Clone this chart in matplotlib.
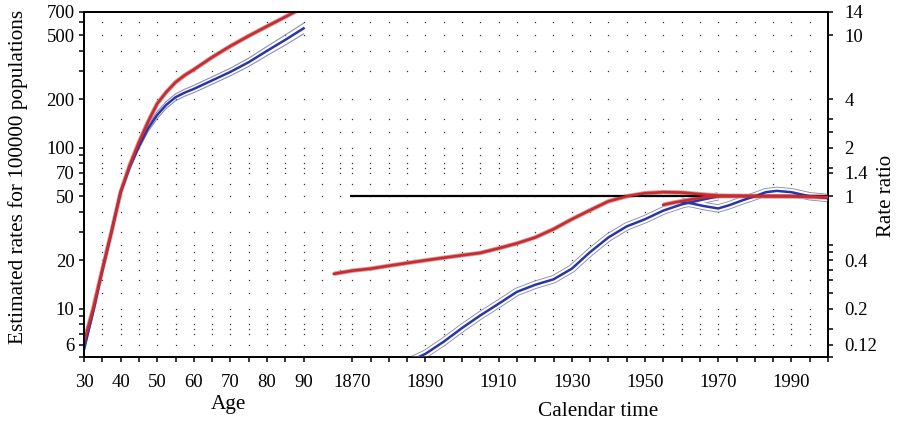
import numpy as np
import matplotlib.pyplot as plt
from matplotlib.ticker import FixedLocator, NullLocator, FuncFormatter

plt.rcParams['font.family'] = ['Liberation Serif', 'DejaVu Serif']

# age effects (rates per 100000)
ages = [30, 32.5, 35, 37.5, 40, 42.5, 45, 47.5, 50, 52.5, 55, 57.5, 60, 65, 70, 75, 80, 85, 90]
age_red = [6.2, 10, 17.5, 30, 53, 78, 108, 145, 188, 222, 255, 282, 306, 365, 428, 495, 568, 650, 745]
age_blue = [5.6, 9.6, 17.3, 30, 53, 76, 102, 132, 160, 185, 206, 220, 232, 262, 296, 340, 400, 468, 552]
age_blue_lo = [5.4, 9.3, 16.8, 29.1, 51.4, 73.5, 98.5, 126, 152, 176, 196, 209, 220, 248, 280, 320, 374, 434, 510]
age_blue_hi = [5.8, 9.9, 17.8, 30.9, 54.6, 78.5, 105.5, 138, 168, 194, 216, 231, 244, 276, 312, 360, 426, 502, 594]

# cohort effects (rate ratio)
coh_red_years = [1865, 1870, 1875, 1880, 1885, 1890, 1895, 1900, 1905, 1910, 1915, 1920, 1925, 1930,
                 1935, 1940, 1945, 1950, 1955, 1960, 1965, 1970, 1975, 1980, 1985, 1990, 1995, 2000]
coh_red = [0.330, 0.345, 0.355, 0.37, 0.385, 0.40, 0.415, 0.43, 0.445, 0.475, 0.51, 0.555, 0.625, 0.72,
           0.82, 0.93, 1.0, 1.045, 1.06, 1.055, 1.03, 1.01, 1.005, 1.0, 1.0, 1.0, 0.99, 0.985]
coh_blue_years = [1885, 1890, 1895, 1900, 1905, 1910, 1915, 1920, 1925, 1930, 1935, 1940, 1945,
                  1950, 1955, 1960, 1965, 1970]
coh_blue = [0.093, 0.105, 0.125, 0.152, 0.182, 0.215, 0.255, 0.282, 0.305, 0.355, 0.45, 0.555, 0.65,
            0.72, 0.815, 0.89, 0.945, 1.0]

# period effects (rate ratio)
per_red_years = [1955, 1958, 1962, 1966, 1970, 1980, 1990, 2000]
per_red = [0.885, 0.915, 0.95, 0.985, 1.0, 1.005, 1.0, 0.99]
per_blue_years = [1960, 1963, 1966, 1970, 1973, 1977, 1980, 1983, 1986, 1990, 1995, 2000]
per_blue = [0.925, 0.90, 0.87, 0.84, 0.88, 0.95, 1.0, 1.06, 1.08, 1.06, 1.0, 0.975]

# ticks
left_ticks = [5, 6, 7, 8, 9, 10, 20, 30, 40, 50, 60, 70, 80, 90, 100, 200, 300, 400, 500, 600, 700]
left_labels = [6, 10, 20, 50, 70, 100, 200, 500, 700]
right_ticks = [0.1, 0.12, 0.15, 0.2, 0.25, 0.3, 0.35, 0.4, 0.45, 0.5, 1, 1.4, 1.5, 2, 2.5, 3, 4, 10, 14]
right_labels = [0.12, 0.2, 0.4, 1, 1.4, 2, 4, 10, 14]
age_ticks = list(range(30, 91, 5))
year_ticks = list(range(1870, 2001, 5))

RED = '#d0282c'
RED_CI = '#c9a0a0'
BLUE = '#2a36a6'
BLUE_CI = '#8c8cba'

W, H = 897, 425
fig = plt.figure(figsize=(W / 100, H / 100), dpi=100)
x0, x1, y0, y1 = 84, 828, 11.7, 357.3
ax = fig.add_axes([x0 / W, 1 - y1 / H, (x1 - x0) / W, (y1 - y0) / H])
xmax = 30 + (x1 - x0) / 3.66
offset = 2000 - xmax

ax.set_yscale('log')
ax.set_ylim(5, 700)
ax.set_xlim(30, xmax)
ax2 = ax.twinx()
ax2.set_yscale('log')
ax2.set_ylim(0.1, 14)
ax3 = ax2.twiny()
ax3.set_xlim(2000 - (xmax - 30), 2000)

# dotted grid at tick intersections
cols = list(range(35, 101, 5)) + [y - offset for y in range(1870, 2000, 5)]
rows = sorted(set([v for v in left_ticks[1:-1]] + [r * 50 for r in right_ticks[1:-1]]))
gx, gy = np.meshgrid(cols, rows)
ax.plot(gx.ravel(), gy.ravel(), ls='none', marker='s', ms=0.9, mew=0, color='#333333', zorder=0.5)

# age curves
ax.plot(ages, age_red, color=RED_CI, lw=3.2, zorder=2, solid_capstyle='butt')
ax.plot(ages, age_blue_lo, color=BLUE_CI, lw=0.8, zorder=2)
ax.plot(ages, age_blue_hi, color=BLUE_CI, lw=0.8, zorder=2)
ax.plot(ages, age_blue, color=BLUE, lw=1.8, zorder=3)
ax.plot(ages, age_red, color=RED, lw=1.9, zorder=4)

# cohort and period curves
for yrs, vals in [(coh_blue_years, coh_blue), (per_blue_years, per_blue)]:
    ax3.plot(yrs, vals, color=BLUE_CI, lw=6.0, zorder=2, solid_capstyle='butt')
    ax3.plot(yrs, vals, color='white', lw=4.7, zorder=2.1, solid_capstyle='butt')
for yrs, vals in [(coh_red_years, coh_red), (per_red_years, per_red)]:
    ax3.plot(yrs, vals, color=RED_CI, lw=3.2, zorder=2.2, solid_capstyle='butt')
ax3.hlines(1, 1869.5, 2000, color='black', lw=1.6, zorder=3)
ax3.plot(coh_blue_years, coh_blue, color=BLUE, lw=1.8, zorder=4)
ax3.plot(per_blue_years, per_blue, color=BLUE, lw=1.8, zorder=4)
ax3.plot(coh_red_years, coh_red, color=RED, lw=1.9, zorder=5)
ax3.plot(per_red_years, per_red, color=RED, lw=1.9, zorder=5)

# axes and ticks
fs = 13.5
lfs = 15.3
for a in (ax, ax2, ax3):
    for s in a.spines.values():
        s.set_linewidth(1.1)
    a.tick_params(direction='out', length=3.8, width=1.1, labelsize=fs)

ax.yaxis.set_major_locator(FixedLocator(left_ticks))
ax.yaxis.set_minor_locator(NullLocator())
ax.yaxis.set_major_formatter(FuncFormatter(lambda v, p: '%g' % v if round(v) in left_labels else ''))
ax.tick_params(axis='y', pad=3)

ax2.yaxis.set_major_locator(FixedLocator(right_ticks))
ax2.yaxis.set_minor_locator(NullLocator())
ax2.yaxis.set_major_formatter(FuncFormatter(
    lambda v, p: '%g' % v if any(abs(v - r) < 1e-9 for r in right_labels) else ''))
ax2.tick_params(axis='y', pad=8)

ax.xaxis.set_major_locator(FixedLocator(age_ticks))
ax.xaxis.set_major_formatter(FuncFormatter(lambda v, p: '%d' % v if round(v) % 10 == 0 else ''))
ax.tick_params(axis='x', pad=8)

ax3.xaxis.set_ticks_position('bottom')
ax3.xaxis.set_label_position('bottom')
ax3.xaxis.set_major_locator(FixedLocator(year_ticks))
ax3.xaxis.set_major_formatter(FuncFormatter(lambda v, p: '%d' % v if (round(v) - 1870) % 20 == 0 else ''))
ax3.tick_params(axis='x', pad=8)

fig.text(228 / W, 1 - 405 / H, 'Age', ha='center', va='center', fontsize=lfs)
fig.text(598 / W, 1 - 411 / H, 'Calendar time', ha='center', va='center', fontsize=lfs)
fig.text(18.3 / W, 1 - 177 / H, 'Estimated rates for 100000 populations', rotation=90,
         ha='center', va='center', fontsize=lfs)
fig.text(886 / W, 1 - 196 / H, 'Rate ratio', rotation=90, ha='center', va='center', fontsize=15)

fig.savefig('out.png', dpi=100)
